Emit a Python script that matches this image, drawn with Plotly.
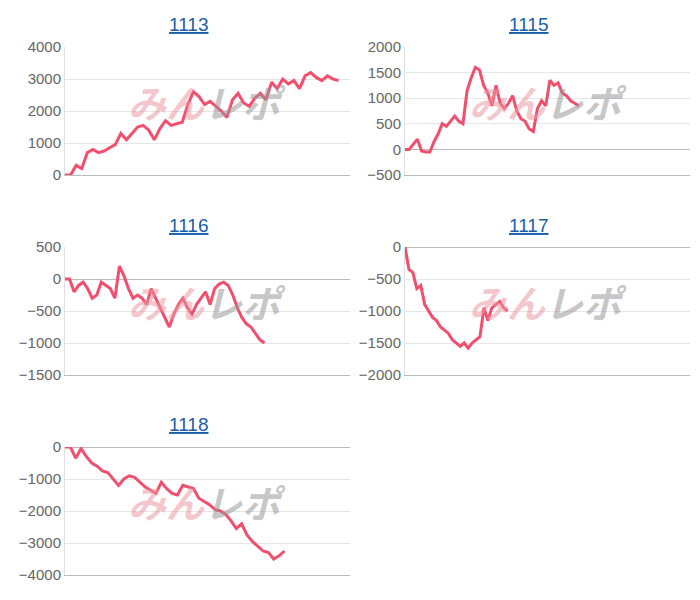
import plotly.graph_objects as go

titles = ["1113", "1115", "1116", "1117", "1118"]
s1113 = [0,0,300,200,700,800,700,750,850,950,1300,1100,1300,1500,1550,1400,1100,1450,1700,1550,1600,1650,2200,2600,2450,2200,2300,2150,2000,1800,2350,2550,2250,2150,2400,2550,2350,2900,2700,3000,2850,2950,2700,3100,3200,3050,2950,3100,3000,2950]
s1115 = [0,0,100,200,-30,-50,-50,150,300,500,450,550,650,550,500,1150,1400,1600,1550,1250,1100,850,1250,900,800,900,1050,750,600,550,400,350,800,950,850,1350,1250,1300,1100,1050,950,900,850]
s1116 = [0,0,-200,-100,-50,-150,-300,-250,-50,-100,-150,-300,200,50,-150,-300,-250,-300,-400,-150,-300,-450,-600,-750,-550,-400,-300,-450,-550,-400,-300,-200,-400,-150,-80,-50,-100,-250,-450,-600,-700,-750,-850,-950,-1000]
s1117 = [0,-350,-400,-650,-600,-900,-1000,-1100,-1150,-1250,-1300,-1350,-1450,-1500,-1550,-1500,-1580,-1500,-1450,-1400,-950,-1150,-950,-900,-850,-950,-1000]
s1118 = [0,0,-350,-50,-300,-500,-600,-750,-800,-1000,-1200,-1000,-900,-950,-1100,-1250,-1350,-1450,-1100,-1300,-1450,-1500,-1200,-1250,-1300,-1600,-1700,-1800,-1950,-2000,-2100,-2300,-2550,-2400,-2750,-2950,-3100,-3250,-3300,-3500,-3400,-3250]
series = [s1113, s1115, s1116, s1117, s1118]
end_frac = [0.96, 0.61, 0.70, 0.36, 0.77]
yranges = [(0, 4000, 1000), (-500, 2000, 500), (-1500, 500, 500), (-2000, 0, 500), (-4000, 0, 1000)]

W, H = 700, 600
OFF = 8  # page body margin
boxes = [(65, 350, 47, 175), (405, 690, 47, 175), (65, 350, 247, 375), (405, 690, 247, 375), (65, 350, 447, 575)]

fig = go.Figure()
for i, (s, t, fr, yr, b) in enumerate(zip(series, titles, end_frac, yranges, boxes)):
    n = i + 1
    xa = "x" if n == 1 else f"x{n}"
    ya = "y" if n == 1 else f"y{n}"
    x0, x1, y0, y1 = [v - OFF for v in b]
    xk = "xaxis" if n == 1 else f"xaxis{n}"
    yk = "yaxis" if n == 1 else f"yaxis{n}"
    fig.add_annotation(text="<b><i><span style='color:rgba(235,150,160,0.55)'>みん</span>"
                            "<span style='color:rgba(150,150,150,0.55)'>レポ</span></i></b>",
                       x=((x0 + x1) / 2) / W, y=1 - (y0 + 54) / H,
                       xanchor="center", yanchor="middle",
                       xref="paper", yref="paper", showarrow=False,
                       font=dict(size=38, family="Noto Sans CJK JP"))
    fig.add_trace(go.Scatter(x=list(range(len(s))), y=s, mode="lines",
                             line=dict(color="#f0506e", width=3), xaxis=xa, yaxis=ya,
                             showlegend=False, hoverinfo="skip"))
    fig.update_layout(**{
        xk: dict(domain=[x0 / W, x1 / W], range=[0, (len(s) - 1) / fr], showticklabels=False,
                 showgrid=False, zeroline=False, showline=True, linecolor="#bbbbbb",
                 anchor=ya, fixedrange=True, automargin=False),
        yk: dict(domain=[1 - y1 / H, 1 - y0 / H], range=[yr[0], yr[1]], dtick=yr[2],
                 tick0=0, showgrid=True, gridcolor="#e6e6e6", zeroline=True,
                 zerolinecolor="#bbbbbb", zerolinewidth=1, showline=True,
                 linecolor="#e0e0e0", anchor=xa, ticks="", ticklen=0, automargin=False,
                 tickfont=dict(color="#666666", size=15), fixedrange=True),
    })
    fig.add_annotation(text=f"<u>{t}</u>", x=((x0 + x1) / 2 - 19) / W, y=1 - (y0 - 22) / H,
                       xanchor="center", yanchor="middle",
                       xref="paper", yref="paper", showarrow=False,
                       font=dict(size=19, color="#1a5ea6"))

fig.update_layout(width=W, height=H, margin=dict(l=0, r=0, t=0, b=0, autoexpand=False),
                  paper_bgcolor="white", plot_bgcolor="white",
                  font=dict(family="Liberation Sans, Arial, sans-serif"))
fig.write_html("out.html")
